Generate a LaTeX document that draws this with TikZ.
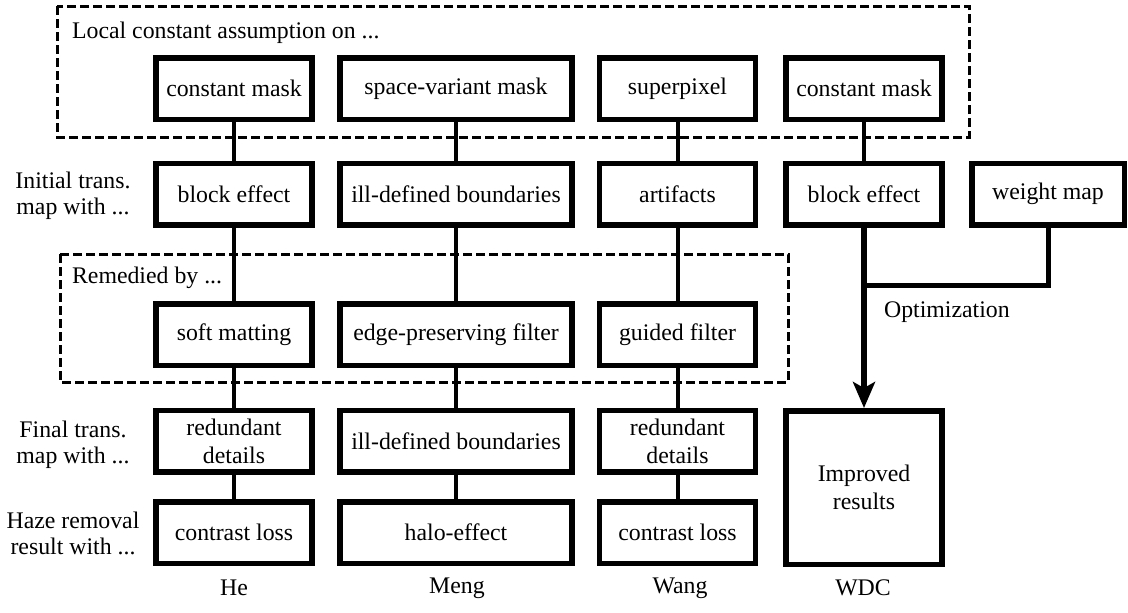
\documentclass[tikz,border=0pt]{standalone}
\usepackage{fontspec}
\setmainfont{LiberationSerif}[Extension=.ttf,UprightFont=*-Regular,BoldFont=*-Bold]
\usetikzlibrary{arrows.meta,positioning}

\begin{document}
\begin{tikzpicture}[x=0.5pt,y=-0.5pt,
      font=\rmfamily\fontsize{11.9}{14}\selectfont,
      blk/.style={draw,line width=2.75pt,minimum height=30.75pt,inner sep=1pt,align=center},
      nar/.style={blk,minimum width=78pt},
      wid/.style={blk,minimum width=116pt},
      grp/.style={draw,line width=1.5pt,dash pattern=on 4.5pt off 2pt},
      lnk/.style={line width=2pt},
      lbl/.style={align=center,font=\rmfamily\fontsize{11.9}{13}\selectfont},
      >={Stealth[length=13pt,width=11pt,inset=3pt]}]
    \useasboundingbox (0,0) rectangle (1128,612);
    % dashed groups
    \draw[grp] (57,6) rectangle (969,137);
    \draw[grp] (60,254) rectangle (788,382);
    \node[anchor=west] (loc) at (65,33) {Local constant assumption on ...};
    \node[anchor=west] (rem) at (65,278) {Remedied by ...};
    % row labels
    \node[lbl] (lini) at (73,196) {Initial trans.\\ map with ...};
    \node[lbl] (lfin) at (73,445) {Final trans.\\ map with ...};
    \node[lbl] (lhaz) at (73,533) {Haze removal\\ result with ...};
    % He
    \node[nar] (he1) at (234,88.5)  {constant mask};
    \node[nar] (he2) at (234,194)   {block effect};
    \node[nar] (he3) at (234,334.5) {soft matting};
    \node[nar] (he4) at (234,441)   {redundant\\ details};
    \node[nar] (he5) at (234,532.5) {contrast loss};
    % Meng
    \node[wid] (me1) at (456,88.5)  {space-variant mask};
    \node[wid] (me2) at (456,194)   {ill-defined boundaries};
    \node[wid] (me3) at (456,334.5) {edge-preserving filter};
    \node[wid] (me4) at (456,441)   {ill-defined boundaries};
    \node[wid] (me5) at (456,532.5) {halo-effect};
    % Wang
    \node[nar] (wa1) at (677.5,88.5)  {superpixel};
    \node[nar] (wa2) at (677.5,194)   {artifacts};
    \node[nar] (wa3) at (677.5,334.5) {guided filter};
    \node[nar] (wa4) at (677.5,441)   {redundant\\ details};
    \node[nar] (wa5) at (677.5,532.5) {contrast loss};
    % WDC
    \node[nar] (wd1) at (864,88.5) {constant mask};
    \node[nar] (wd2) at (864,194)  {block effect};
    \node[blk,minimum width=76.25pt] (wm) at (1048,194) {weight map};
    \node[blk,minimum width=78pt,minimum height=76.75pt] (imp) at (864,487.5) {Improved\\ results};
    \coordinate (jn) at (864,285);
    \node[anchor=west] (opt) at (877,312) {Optimization};
    % links
    \draw[lnk] (he1) -- (he2) -- (he3) -- (he4) -- (he5);
    \draw[lnk] (me1) -- (me2) -- (me3) -- (me4) -- (me5);
    \draw[lnk] (wa1) -- (wa2) -- (wa3) -- (wa4) -- (wa5);
    \draw[lnk] (wd1) -- (wd2);
    \draw[line width=2.5pt] (wm.south) |- (jn);
    \draw[->,line width=3pt] (wd2) -- (imp);
    % method names
    \node (nhe) at (234,588) {He};
    \node (nme) at (457,588) {Meng};
    \node (nwa) at (680,588) {Wang};
    \node (nwd) at (863,588) {WDC};
\end{tikzpicture}
\end{document}
